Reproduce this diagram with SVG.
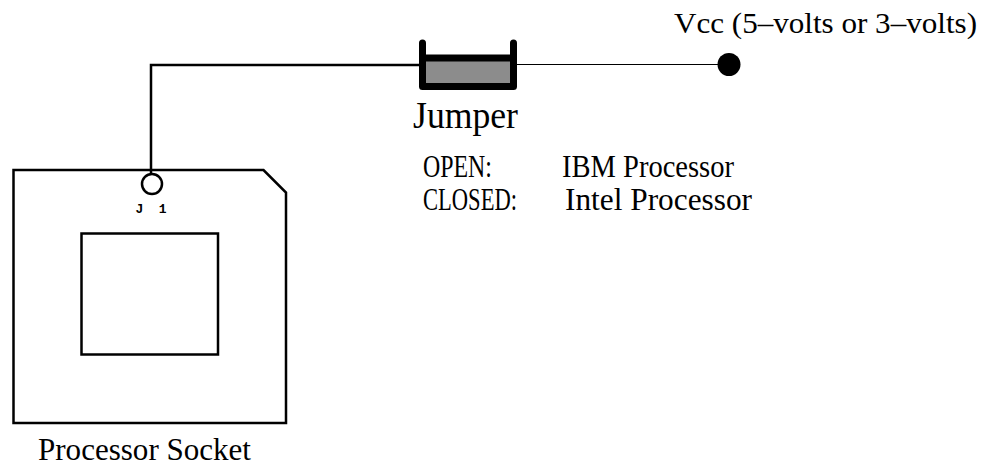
<svg xmlns="http://www.w3.org/2000/svg" width="984" height="466" viewBox="0 0 984 466">
<style>
.t{font-family:"Liberation Serif",serif;font-size:32px;fill:#000}
.o{fill:none;stroke:#000;stroke-width:2.5}
</style>
<rect width="984" height="466" fill="#fff"/>
<g id="socket">
<path class="o" d="M13.5 170H263.5L286 192.500V423H13.500Z"/>
<rect class="o" x="81.500" y="233.500" width="136.500" height="121"/>
<circle class="o" cx="152" cy="184" r="10"/>
<text x="135.500" y="213" textLength="31" lengthAdjust="spacing" style="font-family:'Liberation Mono',monospace;font-size:13px;font-weight:bold;fill:#000">J 1</text>
<text class="t" x="38" y="459.500" textLength="213" lengthAdjust="spacingAndGlyphs" style="font-size:30.500px">Processor Socket</text>
</g>
<g id="connectors">
<path d="M151 173V65H422" fill="none" stroke="#000" stroke-width="2.5"/>
<path d="M514 64.500H729" fill="none" stroke="#000" stroke-width="1.200"/>
</g>
<g id="jumper">
<rect x="426" y="58" width="85" height="26" fill="#8c8c8c"/>
<path d="M422.500 43V86.500H513.500V43M422.500 58H513.500" fill="none" stroke="#000" stroke-width="7" stroke-linecap="round" stroke-linejoin="round"/>
<text class="t" x="413" y="128" textLength="105" lengthAdjust="spacingAndGlyphs" style="font-size:37px">Jumper</text>
<text class="t" x="423" y="177" textLength="69" lengthAdjust="spacingAndGlyphs">OPEN:</text>
<text class="t" x="562" y="177" textLength="172" lengthAdjust="spacingAndGlyphs">IBM Processor</text>
<text class="t" x="423" y="210" textLength="94" lengthAdjust="spacingAndGlyphs">CLOSED:</text>
<text class="t" x="565" y="210" textLength="187" lengthAdjust="spacingAndGlyphs">Intel Processor</text>
</g>
<g id="vcc">
<circle cx="729" cy="64.500" r="11.500" fill="#000"/>
<text class="t" x="674" y="33" textLength="303" lengthAdjust="spacingAndGlyphs" style="font-size:30px">Vcc (5–volts or 3–volts)</text>
</g>
</svg>
